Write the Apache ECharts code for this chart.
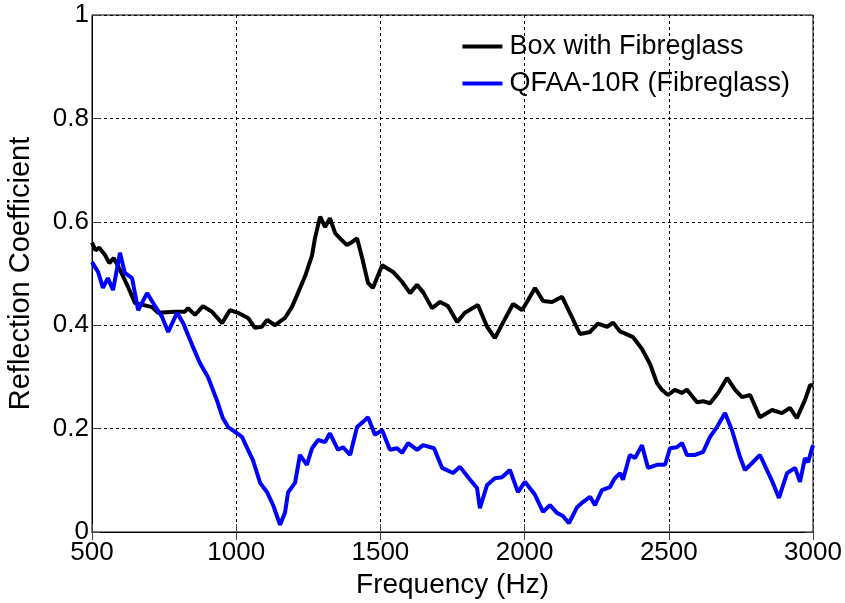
<!DOCTYPE html>
<html>
<head>
<meta charset="utf-8">
<script src="https://cdn.jsdelivr.net/npm/echarts@6/dist/echarts.min.js"></script>
<style>
  html, body { margin: 0; padding: 0; background: #fff; }
  #main { width: 845px; height: 603px; }
</style>
</head>
<body>
<div id="main"></div>
<script>
// 频率 (Hz) 和反射系数
var boxFreq = [500, 512, 525, 545, 560, 575, 590, 625, 649, 708, 729, 788, 822, 833, 857, 885, 916, 951, 978, 1006,
  1041, 1065, 1089, 1107, 1135, 1169, 1193, 1214, 1239, 1263, 1273, 1291, 1308, 1325, 1343, 1360, 1384, 1402, 1419, 1436,
  1457, 1474, 1506, 1544, 1575, 1603, 1627, 1648, 1679, 1707, 1734, 1766, 1793, 1838, 1870, 1897, 1925, 1960, 1991, 2008,
  2036, 2064, 2095, 2130, 2157, 2192, 2227, 2254, 2286, 2307, 2331, 2376, 2407, 2435, 2459, 2476, 2497, 2521, 2545, 2563,
  2598, 2619, 2643, 2671, 2702, 2730, 2754, 2782, 2816, 2858, 2892, 2920, 2944, 2972, 2990, 3000];
var boxVal = [0.56, 0.545, 0.55, 0.536, 0.52, 0.53, 0.515, 0.474, 0.443, 0.435, 0.424, 0.426, 0.426, 0.433, 0.42, 0.437, 0.426, 0.404, 0.429, 0.424,
  0.414, 0.395, 0.397, 0.41, 0.40, 0.414, 0.435, 0.462, 0.495, 0.535, 0.568, 0.61, 0.59, 0.607, 0.578, 0.568, 0.555, 0.561, 0.568, 0.532,
  0.482, 0.472, 0.516, 0.503, 0.484, 0.462, 0.478, 0.464, 0.433, 0.445, 0.437, 0.406, 0.424, 0.439, 0.397, 0.375, 0.405, 0.441, 0.429, 0.445,
  0.472, 0.447, 0.445, 0.455, 0.424, 0.383, 0.387, 0.403, 0.397, 0.405, 0.388, 0.377, 0.354, 0.325, 0.288, 0.275, 0.265, 0.275, 0.269, 0.275,
  0.251, 0.253, 0.249, 0.269, 0.298, 0.275, 0.261, 0.265, 0.222, 0.236, 0.23, 0.24, 0.22, 0.255, 0.284, 0.284];

var qfaaFreq = [500, 521, 538, 555, 573, 597, 614, 639, 660, 691, 712, 743, 764, 795, 816, 847, 874, 902, 933, 954,
  972, 1003, 1020, 1041, 1058, 1083, 1107, 1128, 1152, 1169, 1180, 1204, 1221, 1245, 1263, 1284, 1308, 1325, 1353, 1370,
  1395, 1419, 1440, 1457, 1481, 1506, 1533, 1558, 1575, 1596, 1627, 1648, 1686, 1714, 1752, 1776, 1811, 1835, 1845, 1870,
  1897, 1922, 1949, 1977, 2001, 2036, 2064, 2088, 2112, 2133, 2154, 2182, 2202, 2227, 2244, 2268, 2296, 2313, 2331, 2341,
  2365, 2383, 2407, 2428, 2459, 2487, 2504, 2528, 2546, 2563, 2591, 2619, 2643, 2667, 2695, 2719, 2747, 2764, 2788, 2816,
  2840, 2861, 2882, 2910, 2938, 2955, 2972, 2983, 3000];
var qfaaVal = [0.522, 0.503, 0.472, 0.491, 0.468, 0.54, 0.501, 0.491, 0.429, 0.462, 0.443, 0.416, 0.387, 0.424, 0.404, 0.362, 0.327, 0.30, 0.255, 0.22,
  0.203, 0.191, 0.184, 0.159, 0.139, 0.095, 0.077, 0.052, 0.014, 0.037, 0.077, 0.095, 0.149, 0.13, 0.162, 0.178, 0.174, 0.191, 0.159, 0.164,
  0.149, 0.203, 0.213, 0.222, 0.188, 0.197, 0.159, 0.162, 0.153, 0.172, 0.159, 0.168, 0.162, 0.124, 0.114, 0.126, 0.101, 0.085, 0.046, 0.091,
  0.104, 0.106, 0.12, 0.077, 0.097, 0.072, 0.039, 0.052, 0.037, 0.031, 0.017, 0.048, 0.058, 0.068, 0.052, 0.081, 0.087, 0.104, 0.114, 0.101,
  0.149, 0.143, 0.168, 0.124, 0.13, 0.13, 0.162, 0.164, 0.172, 0.149, 0.149, 0.155, 0.184, 0.203, 0.23, 0.197, 0.145, 0.12, 0.133, 0.149,
  0.12, 0.095, 0.066, 0.114, 0.124, 0.097, 0.143, 0.135, 0.168];

var seriesNames = ["Box with Fibreglass", "QFAA-10R (Fibreglass)"];

function pairs(xs, ys) {
  var out = [];
  for (var i = 0; i < xs.length; i++) {
    out.push([xs[i], ys[i]]);
  }
  return out;
}

var font = "Arial, 'Liberation Sans', sans-serif";
var plain = function (v) { return String(v); };
var tickStyle = { inside: true, length: 8, lineStyle: { color: "#444" } };
var gridLine = { show: true, lineStyle: { color: "#000", type: [3, 3], width: 1 } };

var chart = echarts.init(document.getElementById("main"));

var option = {
  animation: false,
  backgroundColor: "#fff",
  grid: {
    left: 92,
    right: 32,
    top: 15,
    bottom: 71,
    outerBoundsMode: "none",
    containLabel: false,
    show: true,
    borderColor: "#000",
    borderWidth: 1
  },
  legend: {
    orient: "vertical",
    right: 50,
    top: 28,
    itemWidth: 40,
    itemHeight: 4,
    itemGap: 10,
    icon: "rect",
    data: seriesNames,
    textStyle: {
      fontFamily: font,
      fontSize: 27,
      color: "#000",
      lineHeight: 27,
      padding: [0, 0, 0, 2]
    }
  },
  xAxis: [
    {
      type: "value",
      min: 500,
      max: 3000,
      interval: 500,
      name: "Frequency (Hz)",
      nameLocation: "middle",
      nameGap: 39,
      nameTextStyle: { fontFamily: font, fontSize: 28, color: "#000" },
      axisLine: { lineStyle: { color: "#000", width: 1 } },
      axisTick: tickStyle,
      axisLabel: { fontFamily: font, fontSize: 26, color: "#000", margin: 8, formatter: plain },
      splitLine: gridLine
    },
    {
      type: "value",
      position: "top",
      min: 500,
      max: 3000,
      interval: 500,
      axisLine: { show: false },
      axisTick: tickStyle,
      axisLabel: { show: false },
      splitLine: { show: false }
    }
  ],
  yAxis: [
    {
      type: "value",
      min: 0,
      max: 1,
      interval: 0.2,
      name: "Reflection Coefficient",
      nameLocation: "middle",
      nameGap: 57,
      nameTextStyle: { fontFamily: font, fontSize: 29, color: "#000" },
      axisLine: { show: true, lineStyle: { color: "#000", width: 1 } },
      axisTick: { show: true, inside: true, length: 8, lineStyle: { color: "#444" } },
      axisLabel: { fontFamily: font, fontSize: 26, color: "#000", margin: 3, formatter: plain },
      splitLine: gridLine
    },
    {
      type: "value",
      position: "right",
      min: 0,
      max: 1,
      interval: 0.2,
      axisLine: { show: false },
      axisTick: { show: true, inside: true, length: 8, lineStyle: { color: "#444" } },
      axisLabel: { show: false },
      splitLine: { show: false }
    }
  ],
  series: [
    {
      name: seriesNames[0],
      type: "line",
      data: pairs(boxFreq, boxVal),
      showSymbol: false,
      color: "#000",
      lineStyle: { color: "#000", width: 4 },
      z: 3
    },
    {
      name: seriesNames[1],
      type: "line",
      data: pairs(qfaaFreq, qfaaVal),
      showSymbol: false,
      color: "#0000ff",
      lineStyle: { color: "#0000ff", width: 4 },
      z: 4
    }
  ]
};

chart.setOption(option);
</script>
</body>
</html>
